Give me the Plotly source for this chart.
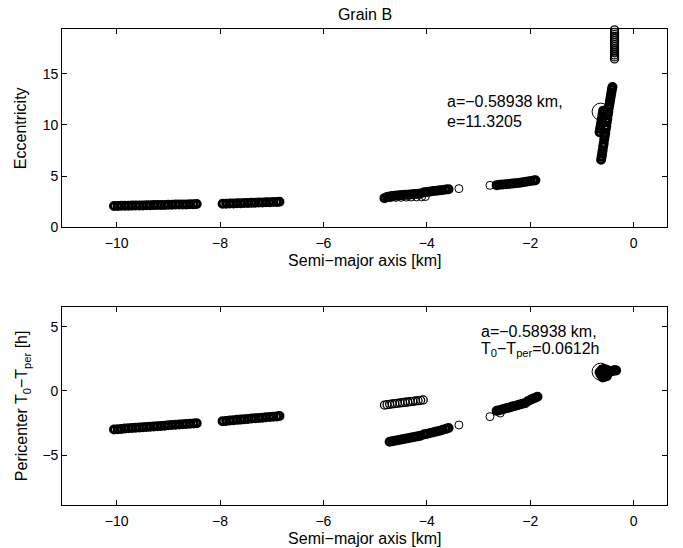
import plotly.graph_objects as go

# ---------------- data ----------------
# Eccentricity panel: semi-major axis [km] and eccentricity
ecc_a_1 = [-10.05, -9.98, -9.91, -9.84, -9.77, -9.70, -9.63, -9.56, -9.49, -9.42, -9.35, -9.28,
           -9.21, -9.14, -9.07, -9.00, -8.93, -8.86, -8.79, -8.72, -8.65, -8.58, -8.51, -8.45]
ecc_e_1 = [2.08, 2.09, 2.10, 2.10, 2.11, 2.12, 2.13, 2.14, 2.14, 2.15, 2.16, 2.17,
           2.18, 2.19, 2.19, 2.20, 2.21, 2.22, 2.23, 2.24, 2.24, 2.25, 2.26, 2.27]
ecc_a_2 = [-7.95, -7.88, -7.81, -7.74, -7.67, -7.60, -7.53, -7.46, -7.39, -7.32, -7.25, -7.18,
           -7.11, -7.04, -6.97, -6.90, -6.85]
ecc_e_2 = [2.30, 2.31, 2.32, 2.33, 2.35, 2.36, 2.37, 2.38, 2.39, 2.41, 2.42, 2.43,
           2.44, 2.45, 2.47, 2.48, 2.50]
ecc_a_3 = [-4.82, -4.77, -4.72, -4.67, -4.62, -4.57, -4.52, -4.47, -4.42, -4.37, -4.32, -4.27,
           -4.22, -4.17, -4.12]
ecc_e_3 = [2.85, 2.95, 3.02, 3.06, 3.09, 3.11, 3.13, 3.15, 3.17, 3.19, 3.21, 3.23,
           3.25, 3.27, 3.30]
ecc_a_3b = [-4.70, -4.60, -4.50, -4.40, -4.30, -4.20, -4.10, -4.03]
ecc_e_3b = [2.90, 2.92, 2.93, 2.95, 2.96, 2.97, 2.98, 3.00]
ecc_a_4 = [-4.05, -3.99, -3.93, -3.87, -3.81, -3.75, -3.69, -3.63, -3.58]
ecc_e_4 = [3.42, 3.46, 3.50, 3.54, 3.57, 3.61, 3.65, 3.69, 3.73]
ecc_a_5 = [-2.65, -2.59, -2.53, -2.47, -2.41, -2.35, -2.29, -2.23, -2.17, -2.11, -2.05, -1.99,
           -1.93, -1.90]
ecc_e_5 = [4.12, 4.15, 4.18, 4.21, 4.24, 4.27, 4.30, 4.34, 4.38, 4.43, 4.48, 4.53,
           4.57, 4.60]
ecc_a_6 = [-0.63, -0.62, -0.61, -0.60, -0.59, -0.58, -0.57, -0.56, -0.55, -0.54, -0.53, -0.52,
           -0.51, -0.50, -0.49, -0.48, -0.47, -0.46, -0.45, -0.44, -0.43, -0.42, -0.41,
           -0.66, -0.65, -0.64, -0.63, -0.62, -0.61, -0.60, -0.59]
ecc_e_6 = [6.6, 6.9, 7.2, 7.5, 7.9, 8.2, 8.6, 8.9, 9.2, 9.6, 9.9, 10.3,
           10.6, 11.0, 11.3, 11.7, 12.0, 12.3, 12.6, 12.9, 13.2, 13.5, 13.7,
           9.3, 9.6, 9.9, 10.2, 10.5, 10.8, 11.1, 11.4]
ecc_a_7 = [-0.37, -0.37, -0.37, -0.37, -0.37, -0.37, -0.37, -0.37,
           -0.37, -0.37, -0.37, -0.37, -0.37, -0.37, -0.37]
ecc_e_7 = [16.45, 16.65, 16.85, 17.05, 17.25, 17.45, 17.65, 17.85,
           18.05, 18.25, 18.45, 18.65, 18.85, 19.05, 19.3]
ecc_a_iso = [-3.38, -2.78]
ecc_e_iso = [3.78, 4.10]

# Pericenter panel: semi-major axis [km] and T0 - Tper [h]
per_a_1 = ecc_a_1
per_T_1 = [-3.00, -2.98, -2.96, -2.93, -2.91, -2.89, -2.87, -2.85, -2.83, -2.80, -2.78, -2.76,
           -2.74, -2.72, -2.70, -2.67, -2.65, -2.63, -2.61, -2.59, -2.57, -2.55, -2.53, -2.51]
per_a_2 = ecc_a_2
per_T_2 = [-2.35, -2.33, -2.30, -2.28, -2.25, -2.23, -2.20, -2.18, -2.15, -2.13, -2.10, -2.08,
           -2.05, -2.03, -2.00, -1.98, -1.95]
per_a_3u = [-4.82, -4.77, -4.72, -4.67, -4.62, -4.57, -4.52, -4.47, -4.42, -4.37, -4.32, -4.27,
            -4.22, -4.17, -4.12, -4.07]
per_T_3u = [-1.10, -1.07, -1.04, -1.01, -0.98, -0.96, -0.93, -0.91, -0.88, -0.86, -0.83, -0.81,
            -0.78, -0.76, -0.73, -0.70]
per_a_3l = [-4.72, -4.67, -4.62, -4.57, -4.52, -4.47, -4.42, -4.37, -4.32, -4.27, -4.22, -4.17, -4.12]
per_T_3l = [-3.95, -3.92, -3.88, -3.84, -3.80, -3.76, -3.72, -3.68, -3.64, -3.60, -3.56, -3.52, -3.48]
per_a_4 = [-4.05, -3.99, -3.93, -3.87, -3.81, -3.75, -3.69, -3.63, -3.58]
per_T_4 = [-3.38, -3.33, -3.27, -3.21, -3.15, -3.09, -3.02, -2.95, -2.88]
per_a_5 = [-2.65, -2.60, -2.55, -2.50, -2.45, -2.40, -2.35, -2.30, -2.25, -2.20, -2.15, -2.10,
           -2.05, -2.00, -1.95, -1.90, -1.86]
per_T_5 = [-1.55, -1.50, -1.44, -1.39, -1.33, -1.28, -1.22, -1.17, -1.11, -1.06, -1.00, -0.95,
           -0.80, -0.70, -0.60, -0.52, -0.45]
per_a_6 = [-0.66, -0.64, -0.62, -0.60, -0.58, -0.56, -0.54, -0.52, -0.50, -0.48, -0.46, -0.44,
           -0.42, -0.40, -0.38, -0.36, -0.34, -0.62, -0.58, -0.54, -0.50, -0.60, -0.56, -0.52]
per_T_6 = [1.45, 1.30, 1.20, 1.15, 1.20, 1.25, 1.30, 1.35, 1.40, 1.45, 1.48, 1.52,
           1.55, 1.58, 1.60, 1.62, 1.60, 1.65, 1.70, 1.68, 1.60, 1.05, 1.10, 1.15]
per_a_iso = [-3.38, -2.78, -2.58]
per_T_iso = [-2.65, -2.00, -1.72]

# highlighted orbit (large circle)
hl_a = [-0.64]
hl_e = [11.3]
hl_T = [1.5]

x_ticks = [-10, -8, -6, -4, -2, 0]
ecc_ticks = [0, 5, 10, 15]
per_ticks = [-5, 0, 5]

# ---------------- figure ----------------
FONT = "Liberation Sans, Arial, Helvetica, sans-serif"
W, H = 683, 548


def px(x):
    return x / W


def py(y):
    return 1 - y / H


fig = go.Figure()


def add(xs, ys, axis, lw=3.0, size=7):
    xa, ya = ("x", "y") if axis == 1 else ("x2", "y2")
    fig.add_trace(go.Scatter(
        x=xs, y=ys, mode="markers", xaxis=xa, yaxis=ya, cliponaxis=False,
        marker=dict(symbol="circle-open", size=size, color="black", line=dict(width=lw)),
        showlegend=False, hoverinfo="x+y"))


for xs, ys in [(ecc_a_1, ecc_e_1), (ecc_a_2, ecc_e_2), (ecc_a_3, ecc_e_3),
               (ecc_a_4, ecc_e_4), (ecc_a_5, ecc_e_5), (ecc_a_6, ecc_e_6)]:
    add(xs, ys, 1)
add(ecc_a_3b, ecc_e_3b, 1, lw=1.0, size=8)
add(ecc_a_7, ecc_e_7, 1, lw=1.3, size=8)
add(ecc_a_iso, ecc_e_iso, 1, lw=1.0, size=8)
add(hl_a, hl_e, 1, lw=1.0, size=17)

for xs, ys in [(per_a_1, per_T_1), (per_a_2, per_T_2), (per_a_3l, per_T_3l),
               (per_a_4, per_T_4), (per_a_5, per_T_5), (per_a_6, per_T_6)]:
    add(xs, ys, 2)
add(per_a_3u, per_T_3u, 2, lw=1.3, size=8)
add(per_a_iso, per_T_iso, 2, lw=1.0, size=8)
add(hl_a, hl_T, 2, lw=1.0, size=17)

axis_common = dict(
    showline=True, linecolor="black", linewidth=1.3, mirror="ticks",
    ticks="inside", ticklen=5, tickwidth=1, tickcolor="black",
    showgrid=False, zeroline=False, automargin=False,
    tickfont=dict(family=FONT, size=14, color="black"),
)
tfont = dict(family=FONT, size=16, color="black")

fig.update_layout(
    width=W, height=H,
    margin=dict(l=0, r=0, t=0, b=0),
    paper_bgcolor="white", plot_bgcolor="white",
    font=dict(family=FONT, size=16, color="black"),
    title=dict(text="Grain B", x=px(365), xanchor="center", y=py(14), yanchor="middle",
               font=tfont),
    xaxis=dict(axis_common, domain=[px(62.3), px(667.3)], range=[-11.05, 0.65],
               tickvals=x_ticks, anchor="y", ticklabelstandoff=3,
               title=dict(text="Semi\u2212major axis [km]", standoff=4, font=tfont)),
    yaxis=dict(axis_common, domain=[py(227.3), py(29.3)], range=[0, 19.35],
               tickvals=ecc_ticks, anchor="x",
               title=dict(text="Eccentricity", standoff=12, font=tfont)),
    xaxis2=dict(axis_common, domain=[px(62.3), px(667.3)], range=[-11.05, 0.65],
                tickvals=x_ticks, anchor="y2", ticklabelstandoff=3,
                title=dict(text="Semi\u2212major axis [km]", standoff=4, font=tfont)),
    yaxis2=dict(axis_common, domain=[py(505), py(306.7)], range=[-8.88, 6.56],
                tickvals=per_ticks, anchor="x2",
                title=dict(text="Pericenter T<sub>0</sub>\u2212T<sub>per</sub> [h]",
                           standoff=10, font=tfont)),
)

fig.add_annotation(text="a=\u22120.58938 km,", xref="paper", yref="paper",
                   x=px(445), y=py(101.7), xanchor="left", yanchor="middle",
                   showarrow=False, font=tfont)
fig.add_annotation(text="e=11.3205", xref="paper", yref="paper",
                   x=px(445), y=py(121.7), xanchor="left", yanchor="middle",
                   showarrow=False, font=tfont)
fig.add_annotation(text="a=\u22120.58938 km,", xref="paper", yref="paper",
                   x=px(479), y=py(331), xanchor="left", yanchor="middle",
                   showarrow=False, font=tfont)
fig.add_annotation(text="T<sub>0</sub>\u2212T<sub>per</sub>=0.0612h", xref="paper", yref="paper",
                   x=px(479), y=py(349), xanchor="left", yanchor="middle",
                   showarrow=False, font=tfont)

# the figure fills the whole 683x548 window: drop the page's default body margin
fig.write_html("out.html",
               config={"displayModeBar": False},
               post_script="document.body.style.margin='0px';document.body.style.overflow='hidden';")
